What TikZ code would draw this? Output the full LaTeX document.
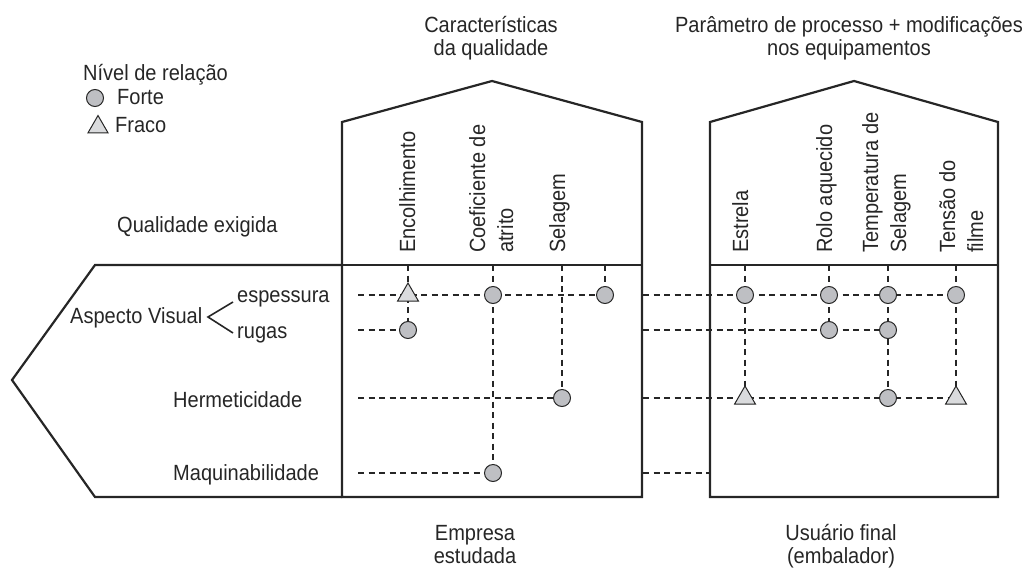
\documentclass[tikz,border=0pt]{standalone}
\usepackage{fontspec}
\setmainfont{Liberation Sans}[FakeStretch=0.91]
\usetikzlibrary{shapes.geometric,backgrounds}
\definecolor{dotfill}{RGB}{190,191,195}
\definecolor{trifill}{RGB}{218,219,221}
\begin{document}
\begin{tikzpicture}[x=1pt,y=-1pt,
  every node/.style={font=\fontsize{22}{26}\selectfont, inner sep=0pt, text=black!85},
  frame/.style={line width=2.2pt, line join=miter, draw=black!85},
  link/.style={dash pattern=on 6pt off 4.5pt, line width=1.5pt, draw=black!85},
  brace/.style={line width=1.6pt, draw=black!85},
  strong/.style={circle, draw=black!85, line width=1pt, fill=dotfill, minimum size=17pt},
  weak/.style={regular polygon, regular polygon sides=3, draw=black!85, line width=1pt, fill=trifill, minimum size=24pt},
  lbl/.style={anchor=base west},
  clbl/.style={anchor=base},
  rlbl/.style={anchor=base west, rotate=90},
]
\useasboundingbox (0,0) rectangle (1035,573);

% frames
\draw[frame] (342,497) -- (342,122) -- (492,81) -- (642,122) -- (642,497) -- cycle;
\draw[frame] (342,265) -- (642,265);
\draw[frame] (342,265) -- (95,265) -- (12,380) -- (95,497) -- (342,497);
\draw[frame] (710,497) -- (710,122) -- (854,81) -- (998,122) -- (998,497) -- cycle;
\draw[frame] (710,265) -- (998,265);

% legend
\node[lbl] (nivel) at (83,80) {Nível de relação};
\node[strong] (lf) at (95,98) {};
\node[lbl] (forte) at (117,104) {Forte};
\node[weak, minimum size=23pt] (lw) at (98,127) {};
\node[lbl] (fraco) at (115,132) {Fraco};

% headings
\node[clbl] (car1) at (491,32) {Características};
\node[clbl] (car2) at (491,55) {da qualidade};
\node[clbl] (par1) at (849,32) {Parâmetro de processo + modificações};
\node[clbl] (par2) at (849,55) {nos equipamentos};
\node[lbl] (qe) at (117,232) {Qualidade exigida};
\node[clbl] (emp1) at (475,540) {Empresa};
\node[clbl] (emp2) at (475,563) {estudada};
\node[clbl] (usu1) at (841,540) {Usuário final};
\node[clbl] (usu2) at (841,563) {(embalador)};

% rows
\node[lbl] (av) at (70,323) {Aspecto Visual};
\node[lbl] (esp) at (237,302) {espessura};
\node[lbl] (rug) at (237,338) {rugas};
\node[lbl] (her) at (173,407) {Hermeticidade};
\node[lbl] (maq) at (173,480) {Maquinabilidade};
\coordinate (bt) at (233,302);
\coordinate (bm) at (208,317);
\coordinate (bb) at (233,333);
\draw[brace] (bt) -- (bm) -- (bb);

% column labels
\node[rlbl] (enc) at (415,253) {Encolhimento};
\node[rlbl] (coe1) at (485,253) {Coeficiente de};
\node[rlbl] (coe2) at (513,253) {atrito};
\node[rlbl] (sel) at (565,253) {Selagem};
\node[rlbl] (est) at (748,253) {Estrela};
\node[rlbl] (rol) at (832,253) {Rolo aquecido};
\node[rlbl] (tem1) at (878,253) {Temperatura de};
\node[rlbl] (tem2) at (906,253) {Selagem};
\node[rlbl] (ten1) at (955,253) {Tensão do};
\node[rlbl] (ten2) at (983,253) {filme};

% relation marks, middle matrix
\node[weak] (t11) at (408,295) {};
\node[strong] (c12) at (493,295) {};
\node[strong] (c14) at (605,295) {};
\node[strong] (c21) at (408,330) {};
\node[strong] (c33) at (562,398) {};
\node[strong] (c42) at (493,473) {};
% relation marks, right matrix
\node[strong] (r11) at (745,295) {};
\node[strong] (r12) at (829,295) {};
\node[strong] (r13) at (888,295) {};
\node[strong] (r14) at (956,295) {};
\node[strong] (r22) at (829,330) {};
\node[strong] (r23) at (888,330) {};
\node[weak] (r31) at (745,398) {};
\node[strong] (r33) at (888,398) {};
\node[weak] (r34) at (956,398) {};

% line ends
\coordinate (ms1) at (358,295);
\coordinate (ms2) at (358,330);
\coordinate (ms3) at (358,398);
\coordinate (ms4) at (358,473);
\coordinate (mt1) at (408,265);
\coordinate (mt2) at (493,265);
\coordinate (mt3) at (562,265);
\coordinate (mt4) at (605,265);
\coordinate (rs1) at (643,295);
\coordinate (rs2) at (643,330);
\coordinate (rs3) at (643,398);
\coordinate (rs4) at (643,473);
\coordinate (re4) at (710,473);
\coordinate (rt1) at (745,265);
\coordinate (rt2) at (829,265);
\coordinate (rt3) at (888,265);
\coordinate (rt4) at (956,265);

\begin{pgfonlayer}{background}
\draw[link] (ms1) -- (c14.center);
\draw[link] (ms2) -- (c21.center);
\draw[link] (ms3) -- (c33.center);
\draw[link] (ms4) -- (c42.center);
\draw[link] (mt1) -- (c21.center);
\draw[link] (mt2) -- (c42.center);
\draw[link] (mt3) -- (c33.center);
\draw[link] (mt4) -- (c14.center);
\draw[link] (rs1) -- (r14.center);
\draw[link] (rs2) -- (r23.center);
\draw[link] (rs3) -- (r34.center);
\draw[link] (rs4) -- (re4);
\draw[link] (rt1) -- (r31.center);
\draw[link] (rt2) -- (r22.center);
\draw[link] (rt3) -- (r33.center);
\draw[link] (rt4) -- (r34.center);
\end{pgfonlayer}
\end{tikzpicture}
\end{document}
